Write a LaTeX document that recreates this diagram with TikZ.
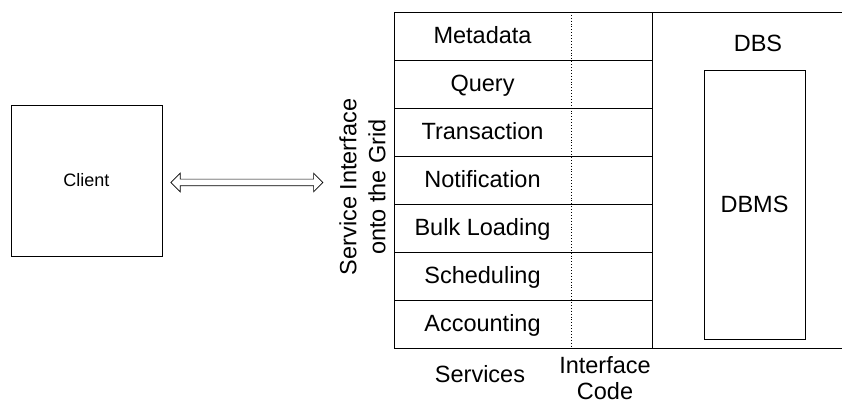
\documentclass[tikz,border=0pt]{standalone}
\usepackage{fontspec}
\setmainfont{Liberation Sans}
\usetikzlibrary{shapes.arrows,positioning}

\begin{document}
\begin{tikzpicture}[x=1pt,y=-1pt,line width=0.9pt,
  label/.style={font=\fontsize{23.5}{26}\selectfont,inner sep=0pt,align=center},
  service/.style={label,minimum width=177pt,text height=17pt,text depth=0pt},
  link/.style={double arrow,draw,line width=0.7pt,inner sep=3pt,minimum height=152pt,
    double arrow head extend=6pt}]
\useasboundingbox (0,0) rectangle (842,403);
% client
\node[draw,minimum size=151pt,font=\fontsize{18}{22}\selectfont] (client) at (86.5,180.5) {Client};
% interface onto the grid
\node[label,font=\fontsize{23.5}{29}\selectfont,rotate=90] (grid) at (362.5,187) {Service Interface\\onto the Grid};
\node[link,right=8pt of client,yshift=-2pt] (arrow) {};
% services
\foreach \name [count=\i] in {Metadata,Query,Transaction,Notification,Bulk Loading,Scheduling,Accounting}
  \node[service] (s\i) at (482.5,{35+48*(\i-1)}) {\name};
\draw (394,12) rectangle (652,348);
\foreach \y in {60,108,...,300}
  \draw (394,\y) -- (652,\y);
\draw[dotted] (571,12) -- (571,350);
\node[label,anchor=base] (services) at (480,382) {Services};
\node[label,anchor=base] (code) at (605,399) {Interface\\Code};
% database system
\draw (652,12) -- (842,12) (652,348) -- (842,348);
\node[label,anchor=base] (dbs) at (758,52) {DBS};
\node[label,draw,line width=0.9pt,minimum width=101pt,minimum height=269pt] (dbms) at (754.5,204.5) {DBMS};
\end{tikzpicture}
\end{document}
